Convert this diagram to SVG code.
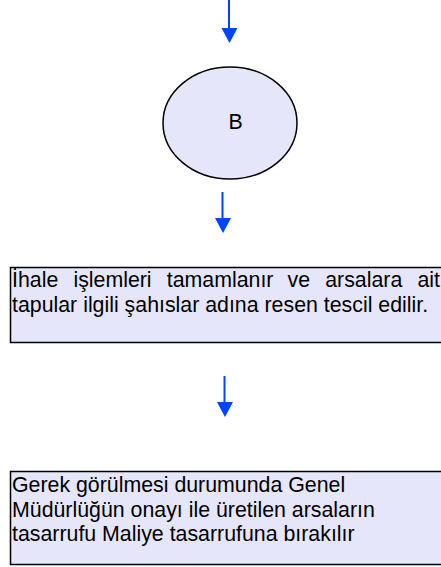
<svg xmlns="http://www.w3.org/2000/svg" width="441" height="567" viewBox="0 0 441 567">
<style>
.node{fill:#e6e6fa;stroke:#000;stroke-width:1.5}
.lbl{font-family:"Liberation Sans",Arial,sans-serif;font-size:21.33px;fill:#000}
.conn{stroke:#0044ff;stroke-width:2;fill:none}
.head{fill:#0044ff}
</style>
<rect width="441" height="567" fill="#fff"/>
<g id="connectors">
<line class="conn" x1="229" y1="0" x2="229" y2="29"/>
<polygon class="head" points="221.5,28 237.5,28 229.5,43"/>
<line class="conn" x1="222.5" y1="192" x2="222.5" y2="219"/>
<polygon class="head" points="215,218 231,218 223,233"/>
<line class="conn" x1="224.5" y1="376" x2="224.5" y2="403"/>
<polygon class="head" points="217,402 233,402 225,417"/>
</g>
<g id="node-b">
<ellipse class="node" cx="230" cy="123" rx="67" ry="56"/>
<text class="lbl" x="235.5" y="128.5" text-anchor="middle">B</text>
</g>
<g id="node-ihale">
<rect class="node" x="10.5" y="267.5" width="440" height="75"/>
<text class="lbl" y="287"><tspan x="12">İhale</tspan><tspan x="73.4">işlemleri</tspan><tspan x="166.8">tamamlanır</tspan><tspan x="287.5">ve</tspan><tspan x="325.2">arsalara</tspan><tspan x="440" text-anchor="end">ait</tspan></text>
<text class="lbl" x="12" y="311.5">tapular ilgili şahıslar adına resen tescil edilir.</text>
</g>
<g id="node-gerek">
<rect class="node" x="10.5" y="471.5" width="440" height="93"/>
<text class="lbl" x="12" y="492">Gerek görülmesi durumunda Genel</text>
<text class="lbl" x="12" y="516.5">Müdürlüğün onayı ile üretilen arsaların</text>
<text class="lbl" x="12" y="541">tasarrufu Maliye tasarrufuna bırakılır</text>
</g>
</svg>
